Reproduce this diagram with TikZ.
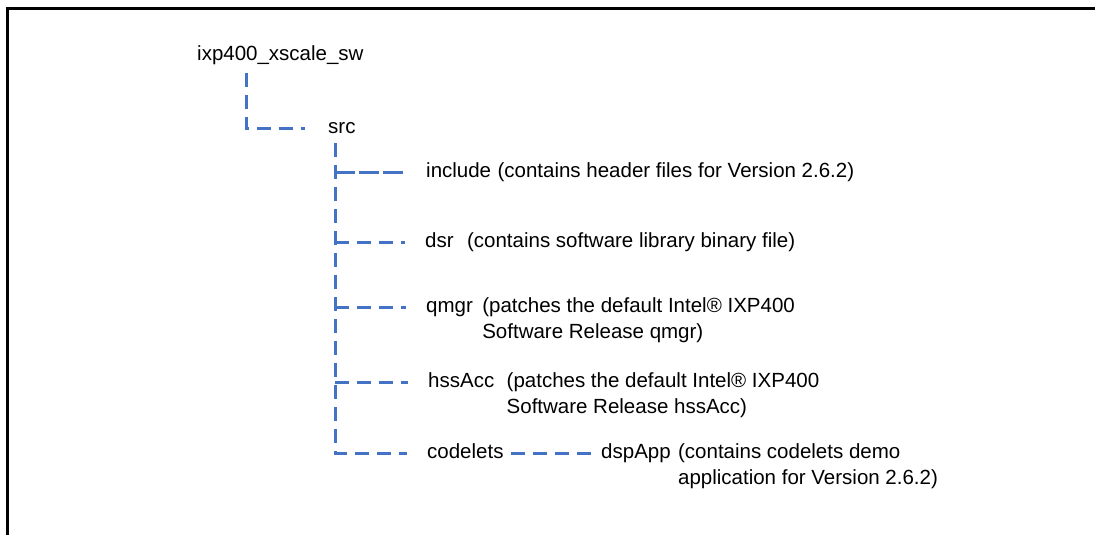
\documentclass[tikz,border=0pt]{standalone}
\usepackage{fontspec}
\setmainfont{Liberation Sans}
\usetikzlibrary{positioning}
\definecolor{treeblue}{RGB}{68,114,196}
\newcommand{\twolines}[2]{\begin{tabular}[t]{@{}l@{}}#1\\#2\end{tabular}}

\begin{document}
\begin{tikzpicture}[
x=1pt, y=-1pt,
every node/.style={inner sep=0pt, font=\fontsize{20.5}{26}\selectfont},
dirnode/.style={anchor=west, text height=15pt, text depth=4.3pt},
descnode/.style={anchor=base west},
tree/.style={draw=treeblue, line width=3pt, dash pattern=on 14pt off 8pt},
frame/.style={draw=black, line width=3pt},
]
\useasboundingbox (0,0) rectangle (1096,535);
%Frame
\draw[frame] (7,535) -- (7,9) -- (1095,9);

%Nodes
\node[dirnode]      (root)     at (197,55.5) {ixp400\_xscale\_sw};
\node[dirnode]      (src)      at (328,128)  {src};
\node[dirnode]      (include)  at (426,172)  {include};
\node[dirnode]      (dsr)      at (425,242)  {dsr};
\node[dirnode]      (qmgr)     at (426,307)  {qmgr};
\node[dirnode]      (hssAcc)   at (428,382)  {hssAcc};
\node[dirnode]      (codelets) at (427,453)  {codelets};
\node[dirnode]      (dspApp)   at (601,453)  {dspApp};

\node[right=6pt of include.base east, descnode]  (includetxt)  {(contains header files for Version 2.6.2)};
\node[right=13pt of dsr.base east, descnode]     (dsrtxt)      {(contains software library binary file)};
\node[right=9pt of qmgr.base east, descnode]     (qmgrtxt)     {\twolines{(patches the default Intel® IXP400}{Software Release qmgr)}};
\node[right=12pt of hssAcc.base east, descnode]  (hssAcctxt)   {\twolines{(patches the default Intel® IXP400}{Software Release hssAcc)}};
\node[right=7pt of dspApp.base east, descnode]   (dspApptxt)   {\twolines{(contains codelets demo}{application for Version 2.6.2)}};

%Lines
\coordinate (spine) at ([xshift=7pt,yshift=-5.5pt]src.south west);
\draw[tree] ([xshift=49pt,yshift=-7.5pt]root.south west) |- ([xshift=-23pt]src.west);
\draw[tree] (spine) |- ([xshift=-20pt]codelets.west);
\draw[tree, dash pattern=on 20pt off 4pt] (spine |- include.west) -- ([xshift=-20pt]include.west);
\foreach \d in {dsr,qmgr,hssAcc}
  \draw[tree] (spine |- \d.west) -- ([xshift=-20pt]\d.west);
\draw[tree] ([xshift=7pt]codelets.east) -- ([xshift=-8pt]dspApp.west);

\end{tikzpicture}
\end{document}
